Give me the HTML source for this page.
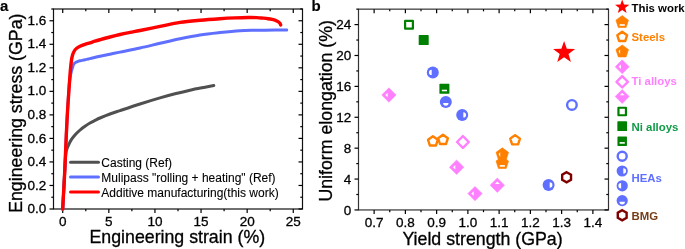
<!DOCTYPE html>
<html><head><meta charset="utf-8"><style>
html,body{margin:0;padding:0;background:#fff;}
body{width:685px;height:249px;overflow:hidden;}
svg{display:block;font-family:"Liberation Sans", sans-serif;will-change:transform;}
</style></head><body>
<svg width="685" height="249" viewBox="0 0 685 249" font-family='"Liberation Sans", sans-serif'>
<rect x="53.50" y="9.00" width="249.00" height="200.00" fill="none" stroke="#111" stroke-width="1.2"/>
<line x1="49.50" y1="209.00" x2="53.50" y2="209.00" stroke="#000" stroke-width="1.2"/>
<line x1="302.50" y1="209.00" x2="298.50" y2="209.00" stroke="#000" stroke-width="1.2"/>
<text x="46.20" y="213.10" font-size="13.5" text-anchor="end" font-weight="normal" fill="#000" stroke="#000" stroke-width="0.3" >0.0</text>
<line x1="51.30" y1="197.24" x2="53.50" y2="197.24" stroke="#000" stroke-width="1.2"/>
<line x1="302.50" y1="197.24" x2="300.30" y2="197.24" stroke="#000" stroke-width="1.2"/>
<line x1="49.50" y1="185.47" x2="53.50" y2="185.47" stroke="#000" stroke-width="1.2"/>
<line x1="302.50" y1="185.47" x2="298.50" y2="185.47" stroke="#000" stroke-width="1.2"/>
<text x="46.20" y="189.57" font-size="13.5" text-anchor="end" font-weight="normal" fill="#000" stroke="#000" stroke-width="0.3" >0.2</text>
<line x1="51.30" y1="173.71" x2="53.50" y2="173.71" stroke="#000" stroke-width="1.2"/>
<line x1="302.50" y1="173.71" x2="300.30" y2="173.71" stroke="#000" stroke-width="1.2"/>
<line x1="49.50" y1="161.94" x2="53.50" y2="161.94" stroke="#000" stroke-width="1.2"/>
<line x1="302.50" y1="161.94" x2="298.50" y2="161.94" stroke="#000" stroke-width="1.2"/>
<text x="46.20" y="166.04" font-size="13.5" text-anchor="end" font-weight="normal" fill="#000" stroke="#000" stroke-width="0.3" >0.4</text>
<line x1="51.30" y1="150.18" x2="53.50" y2="150.18" stroke="#000" stroke-width="1.2"/>
<line x1="302.50" y1="150.18" x2="300.30" y2="150.18" stroke="#000" stroke-width="1.2"/>
<line x1="49.50" y1="138.41" x2="53.50" y2="138.41" stroke="#000" stroke-width="1.2"/>
<line x1="302.50" y1="138.41" x2="298.50" y2="138.41" stroke="#000" stroke-width="1.2"/>
<text x="46.20" y="142.51" font-size="13.5" text-anchor="end" font-weight="normal" fill="#000" stroke="#000" stroke-width="0.3" >0.6</text>
<line x1="51.30" y1="126.65" x2="53.50" y2="126.65" stroke="#000" stroke-width="1.2"/>
<line x1="302.50" y1="126.65" x2="300.30" y2="126.65" stroke="#000" stroke-width="1.2"/>
<line x1="49.50" y1="114.88" x2="53.50" y2="114.88" stroke="#000" stroke-width="1.2"/>
<line x1="302.50" y1="114.88" x2="298.50" y2="114.88" stroke="#000" stroke-width="1.2"/>
<text x="46.20" y="118.98" font-size="13.5" text-anchor="end" font-weight="normal" fill="#000" stroke="#000" stroke-width="0.3" >0.8</text>
<line x1="51.30" y1="103.12" x2="53.50" y2="103.12" stroke="#000" stroke-width="1.2"/>
<line x1="302.50" y1="103.12" x2="300.30" y2="103.12" stroke="#000" stroke-width="1.2"/>
<line x1="49.50" y1="91.35" x2="53.50" y2="91.35" stroke="#000" stroke-width="1.2"/>
<line x1="302.50" y1="91.35" x2="298.50" y2="91.35" stroke="#000" stroke-width="1.2"/>
<text x="46.20" y="95.45" font-size="13.5" text-anchor="end" font-weight="normal" fill="#000" stroke="#000" stroke-width="0.3" >1.0</text>
<line x1="51.30" y1="79.59" x2="53.50" y2="79.59" stroke="#000" stroke-width="1.2"/>
<line x1="302.50" y1="79.59" x2="300.30" y2="79.59" stroke="#000" stroke-width="1.2"/>
<line x1="49.50" y1="67.82" x2="53.50" y2="67.82" stroke="#000" stroke-width="1.2"/>
<line x1="302.50" y1="67.82" x2="298.50" y2="67.82" stroke="#000" stroke-width="1.2"/>
<text x="46.20" y="71.92" font-size="13.5" text-anchor="end" font-weight="normal" fill="#000" stroke="#000" stroke-width="0.3" >1.2</text>
<line x1="51.30" y1="56.06" x2="53.50" y2="56.06" stroke="#000" stroke-width="1.2"/>
<line x1="302.50" y1="56.06" x2="300.30" y2="56.06" stroke="#000" stroke-width="1.2"/>
<line x1="49.50" y1="44.29" x2="53.50" y2="44.29" stroke="#000" stroke-width="1.2"/>
<line x1="302.50" y1="44.29" x2="298.50" y2="44.29" stroke="#000" stroke-width="1.2"/>
<text x="46.20" y="48.39" font-size="13.5" text-anchor="end" font-weight="normal" fill="#000" stroke="#000" stroke-width="0.3" >1.4</text>
<line x1="51.30" y1="32.53" x2="53.50" y2="32.53" stroke="#000" stroke-width="1.2"/>
<line x1="302.50" y1="32.53" x2="300.30" y2="32.53" stroke="#000" stroke-width="1.2"/>
<line x1="49.50" y1="20.76" x2="53.50" y2="20.76" stroke="#000" stroke-width="1.2"/>
<line x1="302.50" y1="20.76" x2="298.50" y2="20.76" stroke="#000" stroke-width="1.2"/>
<text x="46.20" y="24.86" font-size="13.5" text-anchor="end" font-weight="normal" fill="#000" stroke="#000" stroke-width="0.3" >1.6</text>
<line x1="51.30" y1="9.00" x2="53.50" y2="9.00" stroke="#000" stroke-width="1.2"/>
<line x1="302.50" y1="9.00" x2="300.30" y2="9.00" stroke="#000" stroke-width="1.2"/>
<line x1="62.72" y1="209.00" x2="62.72" y2="213.00" stroke="#000" stroke-width="1.2"/>
<line x1="62.72" y1="9.00" x2="62.72" y2="13.00" stroke="#000" stroke-width="1.2"/>
<text x="62.72" y="226.00" font-size="13.5" text-anchor="middle" font-weight="normal" fill="#000" stroke="#000" stroke-width="0.3" >0</text>
<line x1="85.78" y1="209.00" x2="85.78" y2="211.20" stroke="#000" stroke-width="1.2"/>
<line x1="85.78" y1="9.00" x2="85.78" y2="11.20" stroke="#000" stroke-width="1.2"/>
<line x1="108.83" y1="209.00" x2="108.83" y2="213.00" stroke="#000" stroke-width="1.2"/>
<line x1="108.83" y1="9.00" x2="108.83" y2="13.00" stroke="#000" stroke-width="1.2"/>
<text x="108.83" y="226.00" font-size="13.5" text-anchor="middle" font-weight="normal" fill="#000" stroke="#000" stroke-width="0.3" >5</text>
<line x1="131.88" y1="209.00" x2="131.88" y2="211.20" stroke="#000" stroke-width="1.2"/>
<line x1="131.88" y1="9.00" x2="131.88" y2="11.20" stroke="#000" stroke-width="1.2"/>
<line x1="154.94" y1="209.00" x2="154.94" y2="213.00" stroke="#000" stroke-width="1.2"/>
<line x1="154.94" y1="9.00" x2="154.94" y2="13.00" stroke="#000" stroke-width="1.2"/>
<text x="154.94" y="226.00" font-size="13.5" text-anchor="middle" font-weight="normal" fill="#000" stroke="#000" stroke-width="0.3" >10</text>
<line x1="178.00" y1="209.00" x2="178.00" y2="211.20" stroke="#000" stroke-width="1.2"/>
<line x1="178.00" y1="9.00" x2="178.00" y2="11.20" stroke="#000" stroke-width="1.2"/>
<line x1="201.05" y1="209.00" x2="201.05" y2="213.00" stroke="#000" stroke-width="1.2"/>
<line x1="201.05" y1="9.00" x2="201.05" y2="13.00" stroke="#000" stroke-width="1.2"/>
<text x="201.05" y="226.00" font-size="13.5" text-anchor="middle" font-weight="normal" fill="#000" stroke="#000" stroke-width="0.3" >15</text>
<line x1="224.10" y1="209.00" x2="224.10" y2="211.20" stroke="#000" stroke-width="1.2"/>
<line x1="224.10" y1="9.00" x2="224.10" y2="11.20" stroke="#000" stroke-width="1.2"/>
<line x1="247.16" y1="209.00" x2="247.16" y2="213.00" stroke="#000" stroke-width="1.2"/>
<line x1="247.16" y1="9.00" x2="247.16" y2="13.00" stroke="#000" stroke-width="1.2"/>
<text x="247.16" y="226.00" font-size="13.5" text-anchor="middle" font-weight="normal" fill="#000" stroke="#000" stroke-width="0.3" >20</text>
<line x1="270.21" y1="209.00" x2="270.21" y2="211.20" stroke="#000" stroke-width="1.2"/>
<line x1="270.21" y1="9.00" x2="270.21" y2="11.20" stroke="#000" stroke-width="1.2"/>
<line x1="293.27" y1="209.00" x2="293.27" y2="213.00" stroke="#000" stroke-width="1.2"/>
<line x1="293.27" y1="9.00" x2="293.27" y2="13.00" stroke="#000" stroke-width="1.2"/>
<text x="293.27" y="226.00" font-size="13.5" text-anchor="middle" font-weight="normal" fill="#000" stroke="#000" stroke-width="0.3" >25</text>
<text x="177.30" y="242.70" font-size="17.75" text-anchor="middle" font-weight="normal" fill="#000" stroke="#000" stroke-width="0.3" >Engineering strain (%)</text>
<text x="0" y="0" stroke="#000" stroke-width="0.3" font-size="17.75" text-anchor="middle" transform="translate(22.4,113.2) rotate(-90)">Engineering stress (GPa)</text>
<text x="0.00" y="10.80" font-size="15" text-anchor="start" font-weight="bold" fill="#000" stroke="#000" stroke-width="0.15" >a</text>
<path d="M62.70,209.00 C63.05,202.50 64.30,179.00 64.80,170.00 C65.30,161.00 65.40,158.33 65.70,155.00 C66.00,151.67 66.22,151.43 66.60,150.00 C66.98,148.57 67.43,147.73 68.00,146.40 C68.57,145.07 69.30,143.33 70.00,142.00 C70.70,140.67 71.37,139.57 72.20,138.40 C73.03,137.23 74.10,136.02 75.00,135.00 C75.90,133.98 76.77,133.12 77.60,132.30 C78.43,131.48 78.77,131.10 80.00,130.10 C81.23,129.10 83.33,127.48 85.00,126.30 C86.67,125.12 88.33,123.98 90.00,123.00 C91.67,122.02 93.33,121.23 95.00,120.40 C96.67,119.57 97.50,119.07 100.00,118.00 C102.50,116.93 106.67,115.23 110.00,114.00 C113.33,112.77 115.00,112.27 120.00,110.60 C125.00,108.93 133.33,106.12 140.00,104.00 C146.67,101.88 154.17,99.60 160.00,97.90 C165.83,96.20 170.00,95.08 175.00,93.80 C180.00,92.52 185.00,91.30 190.00,90.20 C195.00,89.10 201.03,87.98 205.00,87.20 C208.97,86.42 212.33,85.78 213.80,85.50" fill="none" stroke="#505050" stroke-width="3" stroke-linejoin="round" stroke-linecap="round"/>
<path d="M62.70,209.00 C63.05,202.50 64.20,182.33 64.80,170.00 C65.40,157.67 65.83,145.00 66.30,135.00 C66.77,125.00 67.12,118.33 67.60,110.00 C68.08,101.67 68.73,90.67 69.20,85.00 C69.67,79.33 70.02,78.33 70.40,76.00 C70.78,73.67 71.15,72.42 71.50,71.00 C71.85,69.58 72.17,68.57 72.50,67.50 C72.83,66.43 73.08,65.37 73.50,64.60 C73.92,63.83 74.33,63.40 75.00,62.90 C75.67,62.40 76.67,61.95 77.50,61.60 C78.33,61.25 78.75,61.12 80.00,60.80 C81.25,60.48 83.33,60.07 85.00,59.70 C86.67,59.33 87.50,59.18 90.00,58.60 C92.50,58.02 96.67,56.93 100.00,56.20 C103.33,55.47 106.67,54.88 110.00,54.20 C113.33,53.52 115.00,53.13 120.00,52.10 C125.00,51.07 133.33,49.47 140.00,48.00 C146.67,46.53 153.33,44.85 160.00,43.30 C166.67,41.75 173.33,40.10 180.00,38.70 C186.67,37.30 193.33,35.93 200.00,34.90 C206.67,33.87 213.33,33.20 220.00,32.50 C226.67,31.80 234.17,31.07 240.00,30.70 C245.83,30.33 250.83,30.39 255.00,30.30 C259.17,30.21 259.72,30.19 265.00,30.15 C270.28,30.11 283.08,30.07 286.70,30.05" fill="none" stroke="#5F6FFF" stroke-width="3" stroke-linejoin="round" stroke-linecap="round"/>
<path d="M62.70,209.00 C63.05,202.50 64.20,182.33 64.80,170.00 C65.40,157.67 65.83,145.00 66.30,135.00 C66.77,125.00 67.10,118.33 67.60,110.00 C68.10,101.67 68.83,91.67 69.30,85.00 C69.77,78.33 70.03,74.17 70.40,70.00 C70.77,65.83 71.10,62.62 71.50,60.00 C71.90,57.38 72.30,55.87 72.80,54.30 C73.30,52.73 73.80,51.65 74.50,50.60 C75.20,49.55 76.08,48.73 77.00,48.00 C77.92,47.27 78.67,46.82 80.00,46.20 C81.33,45.58 83.33,44.87 85.00,44.30 C86.67,43.73 88.33,43.32 90.00,42.80 C91.67,42.28 93.33,41.71 95.00,41.20 C96.67,40.69 97.50,40.45 100.00,39.75 C102.50,39.05 106.67,37.88 110.00,37.00 C113.33,36.12 116.67,35.27 120.00,34.50 C123.33,33.73 126.67,33.07 130.00,32.40 C133.33,31.73 135.00,31.50 140.00,30.50 C145.00,29.50 153.33,27.75 160.00,26.40 C166.67,25.05 173.33,23.43 180.00,22.40 C186.67,21.37 193.33,20.82 200.00,20.20 C206.67,19.58 214.17,19.08 220.00,18.70 C225.83,18.32 230.33,18.10 235.00,17.90 C239.67,17.70 244.33,17.55 248.00,17.50 C251.67,17.45 254.50,17.49 257.00,17.60 C259.50,17.71 261.17,17.97 263.00,18.15 C264.83,18.33 266.50,18.49 268.00,18.70 C269.50,18.91 270.75,19.13 272.00,19.40 C273.25,19.67 274.50,19.93 275.50,20.30 C276.50,20.67 277.28,21.12 278.00,21.60 C278.72,22.08 279.35,22.65 279.80,23.20 C280.25,23.75 280.55,24.62 280.70,24.90" fill="none" stroke="#FF0000" stroke-width="3.4" stroke-linejoin="round" stroke-linecap="round"/>
<line x1="70.5" y1="162.2" x2="98.5" y2="162.2" stroke="#505050" stroke-width="3" stroke-linecap="round"/>
<text x="101.30" y="166.80" font-size="12" text-anchor="start" font-weight="normal" fill="#000" stroke="#000" stroke-width="0.1" >Casting (Ref)</text>
<line x1="70.5" y1="177.1" x2="98.5" y2="177.1" stroke="#5F6FFF" stroke-width="3" stroke-linecap="round"/>
<text x="101.30" y="181.70" font-size="12" text-anchor="start" font-weight="normal" fill="#000" stroke="#000" stroke-width="0.1" >Mulipass "rolling + heating" (Ref)</text>
<line x1="70.5" y1="192.1" x2="98.5" y2="192.1" stroke="#FF0000" stroke-width="3" stroke-linecap="round"/>
<text x="101.30" y="196.70" font-size="12" text-anchor="start" font-weight="normal" fill="#000" stroke="#000" stroke-width="0.1" >Additive manufacturing(this work)</text>
<rect x="358.50" y="9.15" width="250.00" height="200.80" fill="none" stroke="#333" stroke-width="1.2"/>
<line x1="354.50" y1="209.95" x2="358.50" y2="209.95" stroke="#000" stroke-width="1.2"/>
<line x1="608.50" y1="209.95" x2="604.50" y2="209.95" stroke="#000" stroke-width="1.2"/>
<text x="351.20" y="214.55" font-size="13.5" text-anchor="end" font-weight="normal" fill="#000" stroke="#000" stroke-width="0.3" >0</text>
<line x1="356.30" y1="194.50" x2="358.50" y2="194.50" stroke="#000" stroke-width="1.2"/>
<line x1="608.50" y1="194.50" x2="606.30" y2="194.50" stroke="#000" stroke-width="1.2"/>
<line x1="354.50" y1="179.06" x2="358.50" y2="179.06" stroke="#000" stroke-width="1.2"/>
<line x1="608.50" y1="179.06" x2="604.50" y2="179.06" stroke="#000" stroke-width="1.2"/>
<text x="351.20" y="183.66" font-size="13.5" text-anchor="end" font-weight="normal" fill="#000" stroke="#000" stroke-width="0.3" >4</text>
<line x1="356.30" y1="163.61" x2="358.50" y2="163.61" stroke="#000" stroke-width="1.2"/>
<line x1="608.50" y1="163.61" x2="606.30" y2="163.61" stroke="#000" stroke-width="1.2"/>
<line x1="354.50" y1="148.17" x2="358.50" y2="148.17" stroke="#000" stroke-width="1.2"/>
<line x1="608.50" y1="148.17" x2="604.50" y2="148.17" stroke="#000" stroke-width="1.2"/>
<text x="351.20" y="152.77" font-size="13.5" text-anchor="end" font-weight="normal" fill="#000" stroke="#000" stroke-width="0.3" >8</text>
<line x1="356.30" y1="132.72" x2="358.50" y2="132.72" stroke="#000" stroke-width="1.2"/>
<line x1="608.50" y1="132.72" x2="606.30" y2="132.72" stroke="#000" stroke-width="1.2"/>
<line x1="354.50" y1="117.27" x2="358.50" y2="117.27" stroke="#000" stroke-width="1.2"/>
<line x1="608.50" y1="117.27" x2="604.50" y2="117.27" stroke="#000" stroke-width="1.2"/>
<text x="351.20" y="121.87" font-size="13.5" text-anchor="end" font-weight="normal" fill="#000" stroke="#000" stroke-width="0.3" >12</text>
<line x1="356.30" y1="101.83" x2="358.50" y2="101.83" stroke="#000" stroke-width="1.2"/>
<line x1="608.50" y1="101.83" x2="606.30" y2="101.83" stroke="#000" stroke-width="1.2"/>
<line x1="354.50" y1="86.38" x2="358.50" y2="86.38" stroke="#000" stroke-width="1.2"/>
<line x1="608.50" y1="86.38" x2="604.50" y2="86.38" stroke="#000" stroke-width="1.2"/>
<text x="351.20" y="90.98" font-size="13.5" text-anchor="end" font-weight="normal" fill="#000" stroke="#000" stroke-width="0.3" >16</text>
<line x1="356.30" y1="70.94" x2="358.50" y2="70.94" stroke="#000" stroke-width="1.2"/>
<line x1="608.50" y1="70.94" x2="606.30" y2="70.94" stroke="#000" stroke-width="1.2"/>
<line x1="354.50" y1="55.49" x2="358.50" y2="55.49" stroke="#000" stroke-width="1.2"/>
<line x1="608.50" y1="55.49" x2="604.50" y2="55.49" stroke="#000" stroke-width="1.2"/>
<text x="351.20" y="60.09" font-size="13.5" text-anchor="end" font-weight="normal" fill="#000" stroke="#000" stroke-width="0.3" >20</text>
<line x1="356.30" y1="40.04" x2="358.50" y2="40.04" stroke="#000" stroke-width="1.2"/>
<line x1="608.50" y1="40.04" x2="606.30" y2="40.04" stroke="#000" stroke-width="1.2"/>
<line x1="354.50" y1="24.60" x2="358.50" y2="24.60" stroke="#000" stroke-width="1.2"/>
<line x1="608.50" y1="24.60" x2="604.50" y2="24.60" stroke="#000" stroke-width="1.2"/>
<text x="351.20" y="29.20" font-size="13.5" text-anchor="end" font-weight="normal" fill="#000" stroke="#000" stroke-width="0.3" >24</text>
<line x1="356.30" y1="9.15" x2="358.50" y2="9.15" stroke="#000" stroke-width="1.2"/>
<line x1="608.50" y1="9.15" x2="606.30" y2="9.15" stroke="#000" stroke-width="1.2"/>
<line x1="374.12" y1="209.95" x2="374.12" y2="213.95" stroke="#000" stroke-width="1.2"/>
<line x1="374.12" y1="9.15" x2="374.12" y2="13.15" stroke="#000" stroke-width="1.2"/>
<text x="374.12" y="226.80" font-size="13.5" text-anchor="middle" font-weight="normal" fill="#000" stroke="#000" stroke-width="0.3" >0.7</text>
<line x1="389.75" y1="209.95" x2="389.75" y2="212.15" stroke="#000" stroke-width="1.2"/>
<line x1="389.75" y1="9.15" x2="389.75" y2="11.35" stroke="#000" stroke-width="1.2"/>
<line x1="405.38" y1="209.95" x2="405.38" y2="213.95" stroke="#000" stroke-width="1.2"/>
<line x1="405.38" y1="9.15" x2="405.38" y2="13.15" stroke="#000" stroke-width="1.2"/>
<text x="405.38" y="226.80" font-size="13.5" text-anchor="middle" font-weight="normal" fill="#000" stroke="#000" stroke-width="0.3" >0.8</text>
<line x1="421.00" y1="209.95" x2="421.00" y2="212.15" stroke="#000" stroke-width="1.2"/>
<line x1="421.00" y1="9.15" x2="421.00" y2="11.35" stroke="#000" stroke-width="1.2"/>
<line x1="436.62" y1="209.95" x2="436.62" y2="213.95" stroke="#000" stroke-width="1.2"/>
<line x1="436.62" y1="9.15" x2="436.62" y2="13.15" stroke="#000" stroke-width="1.2"/>
<text x="436.62" y="226.80" font-size="13.5" text-anchor="middle" font-weight="normal" fill="#000" stroke="#000" stroke-width="0.3" >0.9</text>
<line x1="452.25" y1="209.95" x2="452.25" y2="212.15" stroke="#000" stroke-width="1.2"/>
<line x1="452.25" y1="9.15" x2="452.25" y2="11.35" stroke="#000" stroke-width="1.2"/>
<line x1="467.88" y1="209.95" x2="467.88" y2="213.95" stroke="#000" stroke-width="1.2"/>
<line x1="467.88" y1="9.15" x2="467.88" y2="13.15" stroke="#000" stroke-width="1.2"/>
<text x="467.88" y="226.80" font-size="13.5" text-anchor="middle" font-weight="normal" fill="#000" stroke="#000" stroke-width="0.3" >1.0</text>
<line x1="483.50" y1="209.95" x2="483.50" y2="212.15" stroke="#000" stroke-width="1.2"/>
<line x1="483.50" y1="9.15" x2="483.50" y2="11.35" stroke="#000" stroke-width="1.2"/>
<line x1="499.12" y1="209.95" x2="499.12" y2="213.95" stroke="#000" stroke-width="1.2"/>
<line x1="499.12" y1="9.15" x2="499.12" y2="13.15" stroke="#000" stroke-width="1.2"/>
<text x="499.12" y="226.80" font-size="13.5" text-anchor="middle" font-weight="normal" fill="#000" stroke="#000" stroke-width="0.3" >1.1</text>
<line x1="514.75" y1="209.95" x2="514.75" y2="212.15" stroke="#000" stroke-width="1.2"/>
<line x1="514.75" y1="9.15" x2="514.75" y2="11.35" stroke="#000" stroke-width="1.2"/>
<line x1="530.38" y1="209.95" x2="530.38" y2="213.95" stroke="#000" stroke-width="1.2"/>
<line x1="530.38" y1="9.15" x2="530.38" y2="13.15" stroke="#000" stroke-width="1.2"/>
<text x="530.38" y="226.80" font-size="13.5" text-anchor="middle" font-weight="normal" fill="#000" stroke="#000" stroke-width="0.3" >1.2</text>
<line x1="546.00" y1="209.95" x2="546.00" y2="212.15" stroke="#000" stroke-width="1.2"/>
<line x1="546.00" y1="9.15" x2="546.00" y2="11.35" stroke="#000" stroke-width="1.2"/>
<line x1="561.62" y1="209.95" x2="561.62" y2="213.95" stroke="#000" stroke-width="1.2"/>
<line x1="561.62" y1="9.15" x2="561.62" y2="13.15" stroke="#000" stroke-width="1.2"/>
<text x="561.62" y="226.80" font-size="13.5" text-anchor="middle" font-weight="normal" fill="#000" stroke="#000" stroke-width="0.3" >1.3</text>
<line x1="577.25" y1="209.95" x2="577.25" y2="212.15" stroke="#000" stroke-width="1.2"/>
<line x1="577.25" y1="9.15" x2="577.25" y2="11.35" stroke="#000" stroke-width="1.2"/>
<line x1="592.88" y1="209.95" x2="592.88" y2="213.95" stroke="#000" stroke-width="1.2"/>
<line x1="592.88" y1="9.15" x2="592.88" y2="13.15" stroke="#000" stroke-width="1.2"/>
<text x="592.88" y="226.80" font-size="13.5" text-anchor="middle" font-weight="normal" fill="#000" stroke="#000" stroke-width="0.3" >1.4</text>
<text x="482.50" y="245.30" font-size="17.75" text-anchor="middle" font-weight="normal" fill="#000" stroke="#000" stroke-width="0.3" >Yield strength (GPa)</text>
<text x="0" y="0" stroke="#000" stroke-width="0.3" font-size="17.75" text-anchor="middle" transform="translate(332.1,110.8) rotate(-90)">Uniform elongation (%)</text>
<text x="311.50" y="11.30" font-size="15" text-anchor="start" font-weight="bold" fill="#000" stroke="#000" stroke-width="0.15" >b</text>
<rect x="405.10" y="20.90" width="7.80" height="7.80" fill="#fff" stroke="#008000" stroke-width="2.2" stroke-linejoin="round"/>
<rect x="418.70" y="35.10" width="10.00" height="10.00" fill="#008000" rx="0.6"/>
<polygon points="388.90,87.80 396.10,95.00 388.90,102.20 381.70,95.00" fill="#FF80FF" stroke="#FF80FF" stroke-width="0.5" stroke-linejoin="round"/>
<polygon points="385.30,95.00 387.60,92.70 387.60,97.30" fill="#fff"/>
<circle cx="432.80" cy="72.40" r="6.00" fill="#5F6FFF"/>
<path d="M431.70,69.70 A2.7,2.7 0 0 0 431.70,75.10 Z" fill="#fff"/>
<rect x="439.40" y="83.80" width="10.00" height="10.00" fill="#008000" rx="0.6"/>
<rect x="441.80" y="89.70" width="5.2" height="1.6" fill="#fff"/>
<circle cx="445.80" cy="102.00" r="6.00" fill="#5F6FFF"/>
<path d="M443.10,103.10 A2.7,2.7 0 0 0 448.50,103.10 Z" fill="#fff"/>
<circle cx="462.20" cy="114.90" r="6.00" fill="#5F6FFF"/>
<path d="M463.30,112.20 A2.7,2.7 0 0 1 463.30,117.60 Z" fill="#fff"/>
<polygon points="432.90,136.30 437.75,139.82 435.90,145.53 429.90,145.53 428.05,139.82" fill="#fff" stroke="#FF8000" stroke-width="2.4" stroke-linejoin="round"/>
<polygon points="443.00,134.80 447.85,138.32 446.00,144.03 440.00,144.03 438.15,138.32" fill="#fff" stroke="#FF8000" stroke-width="2.4" stroke-linejoin="round"/>
<polygon points="462.90,136.10 468.80,142.00 462.90,147.90 457.00,142.00" fill="#fff" stroke="#FF80FF" stroke-width="2.4" stroke-linejoin="round"/>
<polygon points="456.60,160.00 463.80,167.20 456.60,174.40 449.40,167.20" fill="#FF80FF" stroke="#FF80FF" stroke-width="0.5" stroke-linejoin="round"/>
<polygon points="453.00,167.20 455.30,164.90 455.30,169.50" fill="#fff"/>
<polygon points="515.10,135.10 519.95,138.62 518.10,144.33 512.10,144.33 510.25,138.62" fill="#fff" stroke="#FF8000" stroke-width="2.4" stroke-linejoin="round"/>
<polygon points="502.30,156.50 508.58,161.06 506.18,168.44 498.42,168.44 496.02,161.06" fill="#FF8000" stroke="#FF8000" stroke-width="0.6" stroke-linejoin="round"/>
<rect x="499.70" y="165.10" width="5.2" height="1.6" fill="#fff"/>
<polygon points="502.30,147.80 508.58,152.36 506.18,159.74 498.42,159.74 496.02,152.36" fill="#FF8000" stroke="#FF8000" stroke-width="0.6" stroke-linejoin="round"/>
<polygon points="498.70,154.10 500.20,152.20 500.20,157.00" fill="#fff"/>
<polygon points="497.30,178.00 504.50,185.20 497.30,192.40 490.10,185.20" fill="#FF80FF" stroke="#FF80FF" stroke-width="0.5" stroke-linejoin="round"/>
<polygon points="497.30,181.60 499.80,183.90 494.80,183.90" fill="#fff"/>
<polygon points="475.00,186.40 482.20,193.60 475.00,200.80 467.80,193.60" fill="#FF80FF" stroke="#FF80FF" stroke-width="0.5" stroke-linejoin="round"/>
<polygon points="471.40,193.60 473.70,191.30 473.70,195.90" fill="#fff"/>
<circle cx="548.60" cy="185.00" r="6.00" fill="#5F6FFF"/>
<path d="M549.70,182.30 A2.7,2.7 0 0 1 549.70,187.70 Z" fill="#fff"/>
<polygon points="566.60,172.20 571.02,174.75 571.02,179.85 566.60,182.40 562.18,179.85 562.18,174.75" fill="#fff" stroke="#800000" stroke-width="2.4" stroke-linejoin="miter"/>
<circle cx="571.90" cy="104.90" r="4.80" fill="#fff" stroke="#5F6FFF" stroke-width="2.4"/>
<polygon points="564.10,41.00 566.83,48.85 575.13,49.02 568.51,54.03 570.92,61.98 564.10,57.24 557.28,61.98 559.69,54.03 553.07,49.02 561.37,48.85" fill="#FF0000"/>
<polygon points="622.20,-0.50 624.01,4.51 629.33,4.68 625.12,7.95 626.61,13.07 622.20,10.07 617.79,13.07 619.28,7.95 615.07,4.68 620.39,4.51" fill="#FF0000"/>
<text x="631.50" y="12.10" font-size="11.4" text-anchor="start" font-weight="bold" fill="#000" >This work</text>
<polygon points="622.20,15.60 628.48,20.16 626.08,27.54 618.32,27.54 615.92,20.16" fill="#FF8000" stroke="#FF8000" stroke-width="0.6" stroke-linejoin="round"/>
<rect x="619.60" y="24.20" width="5.2" height="1.6" fill="#fff"/>
<polygon points="622.20,31.80 627.05,35.32 625.20,41.03 619.20,41.03 617.35,35.32" fill="#fff" stroke="#FF8000" stroke-width="2.4" stroke-linejoin="round"/>
<text x="631.50" y="41.30" font-size="11.4" text-anchor="start" font-weight="bold" fill="#FF8000" >Steels</text>
<polygon points="622.20,45.00 628.48,49.56 626.08,56.94 618.32,56.94 615.92,49.56" fill="#FF8000" stroke="#FF8000" stroke-width="0.6" stroke-linejoin="round"/>
<polygon points="618.60,51.30 620.10,49.40 620.10,54.20" fill="#fff"/>
<polygon points="622.20,59.80 629.20,66.80 622.20,73.80 615.20,66.80" fill="#FF80FF" stroke="#FF80FF" stroke-width="0.5" stroke-linejoin="round"/>
<polygon points="618.60,66.80 620.90,64.50 620.90,69.10" fill="#fff"/>
<polygon points="622.20,76.10 627.90,81.80 622.20,87.50 616.50,81.80" fill="#fff" stroke="#FF80FF" stroke-width="2.4" stroke-linejoin="round"/>
<text x="631.50" y="84.90" font-size="11.4" text-anchor="start" font-weight="bold" fill="#FF80FF" >Ti alloys</text>
<polygon points="622.20,89.50 629.20,96.50 622.20,103.50 615.20,96.50" fill="#FF80FF" stroke="#FF80FF" stroke-width="0.5" stroke-linejoin="round"/>
<polygon points="622.20,92.90 624.70,95.20 619.70,95.20" fill="#fff"/>
<rect x="618.45" y="107.75" width="7.50" height="7.50" fill="#fff" stroke="#008000" stroke-width="2.2" stroke-linejoin="round"/>
<rect x="617.35" y="121.35" width="9.70" height="9.70" fill="#008000" rx="0.6"/>
<text x="631.50" y="131.10" font-size="11.4" text-anchor="start" font-weight="bold" fill="#109A48" >Ni alloys</text>
<rect x="617.45" y="136.45" width="9.50" height="9.50" fill="#008000" rx="0.6"/>
<rect x="619.60" y="142.10" width="5.2" height="1.6" fill="#fff"/>
<circle cx="622.20" cy="156.30" r="4.50" fill="#fff" stroke="#5F6FFF" stroke-width="2.4"/>
<circle cx="622.20" cy="171.00" r="5.60" fill="#5F6FFF"/>
<path d="M623.30,168.30 A2.7,2.7 0 0 1 623.30,173.70 Z" fill="#fff"/>
<text x="631.50" y="181.60" font-size="11.4" text-anchor="start" font-weight="bold" fill="#5F6FFF" >HEAs</text>
<circle cx="622.20" cy="185.80" r="5.60" fill="#5F6FFF"/>
<path d="M621.10,183.10 A2.7,2.7 0 0 0 621.10,188.50 Z" fill="#fff"/>
<circle cx="622.20" cy="200.60" r="5.60" fill="#5F6FFF"/>
<path d="M619.50,201.70 A2.7,2.7 0 0 0 624.90,201.70 Z" fill="#fff"/>
<polygon points="622.20,210.20 626.62,212.75 626.62,217.85 622.20,220.40 617.78,217.85 617.78,212.75" fill="#fff" stroke="#800000" stroke-width="2.4" stroke-linejoin="miter"/>
<text x="631.50" y="219.90" font-size="11.4" text-anchor="start" font-weight="bold" fill="#753D1A" >BMG</text>
</svg>
</body></html>
